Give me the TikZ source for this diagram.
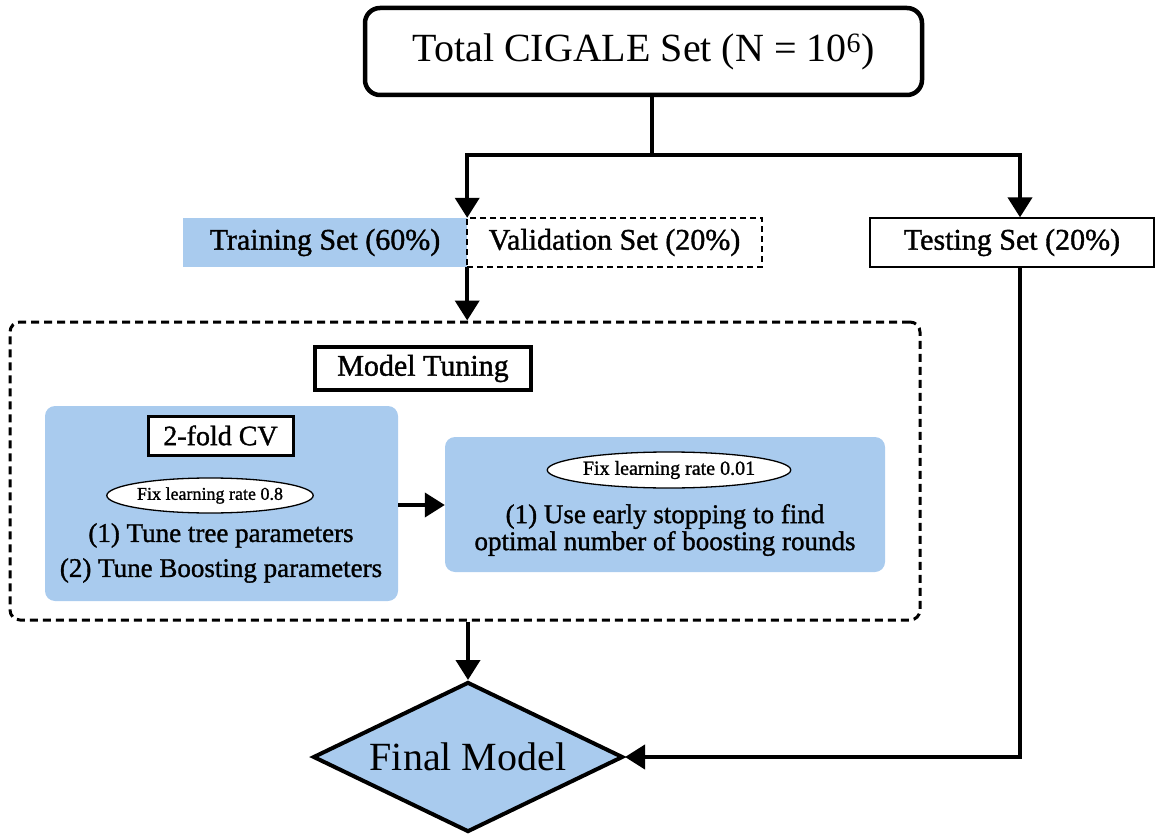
\documentclass[tikz,border=0pt]{standalone}
\usepackage{fontspec}
\setmainfont{Liberation Serif}
\newfontfamily\heavyserif{Liberation Serif}[RawFeature={embolden=1.2}]
\usetikzlibrary{positioning, arrows.meta, shapes.geometric, calc}
\definecolor{cStage}{HTML}{A9CBEE}
\tikzset{
  link/.style={line width=4pt},
  flow/.style={link, -{Triangle[length=20pt,width=24pt]}},
  setbox/.style={rectangle, inner sep=0pt, minimum height=49pt,
    font=\heavyserif\fontsize{30}{36}\selectfont},
  stagebox/.style={rectangle, rounded corners=10pt, fill=cStage, inner sep=0pt},
  tagbox/.style={rectangle, draw, fill=white, inner sep=0pt},
  ratetag/.style={ellipse, draw, fill=white, line width=1.3pt, inner sep=0pt},
  steptext/.style={align=center, inner sep=0pt},
}
\begin{document}
\begin{tikzpicture}[x=1pt, y=-1pt]
  \useasboundingbox (0,0) rectangle (1156,834);
  % full data set and its three splits
  \node[draw, line width=4.5pt, rounded corners=15pt, minimum width=557pt,
        minimum height=87pt, font=\fontsize{40}{48}\selectfont]
        (total) at (643.5,51.5) {Total CIGALE Set (N = 10\textsuperscript{6})};
  \node[setbox, fill=cStage, minimum width=284pt] (train) at (325,242.5) {Training Set (60\%)};
  \node[setbox, draw, dashed, line width=1.3pt, dash pattern=on 6pt off 4pt,
        minimum width=295pt] (valid) at (614.5,242.5) {Validation Set (20\%)};
  \node[setbox, draw, line width=1.3pt, minimum width=284pt] (test) at (1012,242.5) {Testing Set (20\%)};
  \coordinate (split) at (652,155);
  \coordinate (testin) at ([xshift=8pt]test.north);
  \coordinate (testout) at ([xshift=8pt]test.south);

  % tuning block
  \node[draw, dashed, line width=3pt, dash pattern=on 8pt off 5pt, rounded corners=10pt,
        minimum width=910pt, minimum height=298pt] (tuning) at (465,471) {};
  \node[tagbox, line width=3.5pt, minimum width=216pt, minimum height=43pt,
        font=\heavyserif\fontsize{30}{36}\selectfont] (tunetag) at (423,368.5) {Model Tuning};

  \node[stagebox, minimum width=353pt, minimum height=195pt] (cv) at (221.5,503.5) {};
  \node[tagbox, line width=3pt, minimum width=145pt, minimum height=39pt,
        font=\heavyserif\fontsize{28}{34}\selectfont] (cvtag) at (220.5,435.5) {2-fold CV};
  \node[ratetag, minimum width=194pt, minimum height=35pt,
        font=\heavyserif\fontsize{18}{22}\selectfont] (rate1) at (210,495.5) {Fix learning rate 0.8};
  \node[steptext, font=\heavyserif\fontsize{27}{35}\selectfont] (cvsteps) at (221,553)
        {(1) Tune tree parameters\\(2) Tune Boosting parameters};

  \node[stagebox, minimum width=440pt, minimum height=135pt] (es) at (665,504.5) {};
  \node[ratetag, minimum width=216pt, minimum height=36pt,
        font=\heavyserif\fontsize{20}{24}\selectfont] (rate2) at (669,470) {Fix learning rate 0.01};
  \node[steptext, font=\heavyserif\fontsize{27}{27}\selectfont] (essteps) at (665,530)
        {(1) Use early stopping to find\\optimal number of boosting rounds};

  % result
  \node[diamond, draw, fill=cStage, line width=4pt, shape aspect=2.07, inner sep=0pt,
        minimum width=310pt, minimum height=150pt, font=\fontsize{40}{48}\selectfont]
        (final) at (468,757) {Final Model};

  % connectors
  \draw[link] (total.south -| split) -- (split);
  \draw[flow] (split) -| (train.north east);
  \draw[flow] (split) -| (testin);
  \draw[flow] (train.south east) -- (train.south east |- tuning.north);
  \draw[flow] (cv.east |- 0,505) -- (es.west |- 0,505);
  \draw[flow] (tuning.south -| final.north) -- (final.north);
  \draw[flow] (testout) |- (final.east);
\end{tikzpicture}
\end{document}
